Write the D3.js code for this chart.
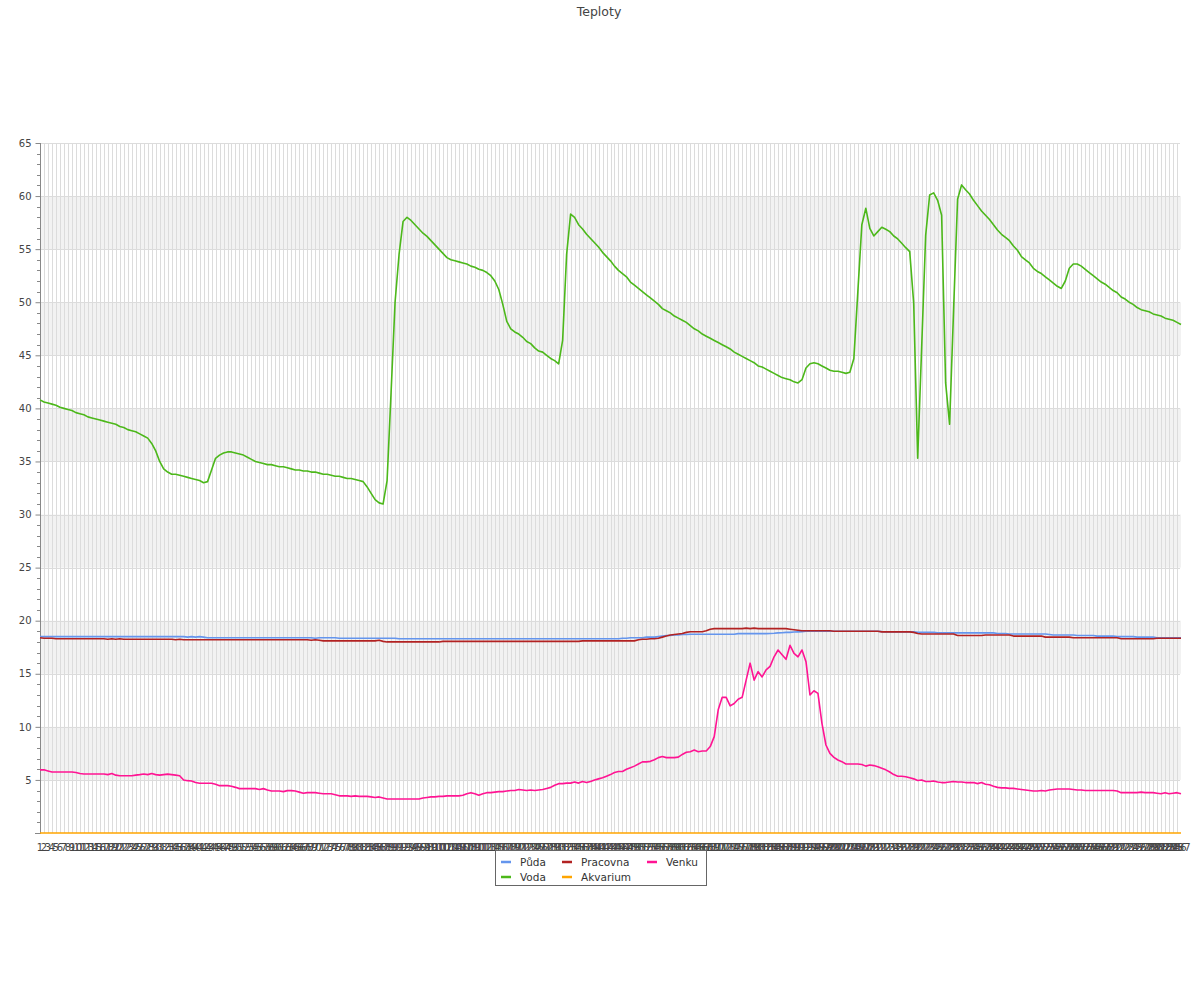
<!DOCTYPE html>
<html>
<head>
<meta charset="utf-8">
<script src="https://cdn.jsdelivr.net/npm/d3@7/dist/d3.min.js"></script>
<style>
html,body{margin:0;padding:0;background:#fff;}
svg text{font-family:"DejaVu Sans",sans-serif;}
</style>
</head>
<body>
<svg id="chart" width="1200" height="1000"></svg>
<script>
const title = "Teploty";
const categories = d3.range(1, 288).map(String);
const yTicks = [5, 10, 15, 20, 25, 30, 35, 40, 45, 50, 55, 60, 65];

const puda = [
18.5,18.5,18.5,18.5,18.5,18.5,18.5,18.5,18.5,18.5,
18.5,18.5,18.5,18.5,18.5,18.5,18.5,18.5,18.5,18.5,
18.5,18.5,18.5,18.5,18.5,18.5,18.5,18.5,18.5,18.5,
18.5,18.5,18.5,18.5,18.5,18.5,18.5,18.45,18.5,18.45,
18.5,18.45,18.4,18.4,18.4,18.4,18.4,18.4,18.4,18.4,
18.4,18.4,18.4,18.4,18.4,18.4,18.4,18.4,18.4,18.4,
18.4,18.4,18.4,18.4,18.4,18.4,18.4,18.4,18.4,18.35,
18.4,18.4,18.4,18.4,18.4,18.35,18.35,18.35,18.35,18.35,
18.35,18.35,18.35,18.35,18.35,18.35,18.35,18.35,18.35,18.35,
18.3,18.3,18.3,18.3,18.3,18.3,18.3,18.3,18.3,18.3,
18.3,18.3,18.3,18.3,18.3,18.3,18.3,18.3,18.3,18.3,
18.3,18.3,18.3,18.3,18.3,18.3,18.3,18.3,18.3,18.3,
18.3,18.3,18.3,18.3,18.3,18.3,18.3,18.3,18.3,18.3,
18.3,18.3,18.3,18.3,18.3,18.3,18.3,18.3,18.3,18.3,
18.3,18.3,18.3,18.3,18.3,18.3,18.35,18.35,18.4,18.4,
18.4,18.4,18.45,18.45,18.45,18.5,18.55,18.6,18.6,18.65,
18.65,18.7,18.7,18.72,18.72,18.72,18.72,18.72,18.72,18.72,
18.72,18.72,18.72,18.72,18.72,18.78,18.78,18.78,18.78,18.78,
18.78,18.78,18.78,18.8,18.82,18.85,18.87,18.9,18.9,18.93,
18.95,18.97,19.0,19.0,19.0,19.0,19.0,19.0,19.0,19.0,
19.0,19.0,19.0,19.0,19.0,19.0,19.0,19.0,19.0,19.0,
19.0,18.97,18.95,18.95,18.95,18.95,18.95,18.95,18.95,18.95,
18.9,18.9,18.9,18.9,18.9,18.85,18.85,18.85,18.85,18.85,
18.85,18.85,18.85,18.85,18.85,18.85,18.85,18.85,18.85,18.85,
18.8,18.8,18.8,18.75,18.75,18.75,18.75,18.75,18.75,18.75,
18.75,18.75,18.75,18.7,18.65,18.65,18.65,18.65,18.65,18.65,
18.6,18.6,18.6,18.6,18.6,18.55,18.55,18.55,18.55,18.55,
18.5,18.5,18.5,18.5,18.5,18.45,18.45,18.45,18.45,18.45,
18.4,18.4,18.4,18.4,18.4,18.4,18.4
];

const voda = [
40.8,40.6,40.5,40.4,40.3,40.1,40.0,39.9,39.8,39.6,
39.5,39.4,39.2,39.1,39.0,38.9,38.8,38.7,38.6,38.5,
38.3,38.2,38.0,37.9,37.8,37.6,37.4,37.2,36.7,36.0,
35.0,34.3,34.0,33.8,33.8,33.7,33.6,33.5,33.4,33.3,
33.2,33.0,33.1,34.2,35.3,35.6,35.8,35.9,35.9,35.8,
35.7,35.6,35.4,35.2,35.0,34.9,34.8,34.7,34.7,34.6,
34.5,34.5,34.4,34.3,34.2,34.2,34.1,34.1,34.0,34.0,
33.9,33.8,33.8,33.7,33.6,33.6,33.5,33.4,33.4,33.3,
33.2,33.1,32.6,32.0,31.4,31.1,31.0,33.2,41.5,50.0,
54.5,57.6,58.0,57.7,57.3,56.9,56.5,56.2,55.8,55.4,
55.0,54.6,54.2,54.0,53.9,53.8,53.7,53.6,53.4,53.3,
53.1,53.0,52.8,52.5,52.0,51.2,49.8,48.2,47.5,47.2,
47.0,46.7,46.3,46.1,45.7,45.4,45.3,45.0,44.7,44.5,
44.2,46.4,54.5,58.3,58.0,57.3,56.9,56.4,56.0,55.6,
55.2,54.7,54.3,53.9,53.4,53.0,52.7,52.4,51.9,51.6,
51.3,51.0,50.7,50.4,50.1,49.8,49.4,49.2,49.0,48.7,
48.5,48.3,48.1,47.8,47.5,47.3,47.0,46.8,46.6,46.4,
46.2,46.0,45.8,45.6,45.3,45.1,44.9,44.7,44.5,44.3,
44.0,43.9,43.7,43.5,43.3,43.1,42.9,42.8,42.7,42.5,
42.4,42.7,43.8,44.2,44.3,44.2,44.0,43.8,43.6,43.5,
43.5,43.4,43.3,43.4,44.7,51.0,57.3,58.85,56.96,56.24,
56.65,57.06,56.87,56.65,56.24,55.96,55.55,55.14,54.77,49.9,
35.3,45.8,56.3,60.1,60.3,59.6,58.2,42.4,38.5,49.3,
59.7,61.05,60.6,60.2,59.6,59.1,58.6,58.2,57.8,57.3,
56.8,56.4,56.1,55.8,55.3,54.9,54.3,54.0,53.7,53.2,
52.9,52.7,52.4,52.1,51.8,51.5,51.3,52.0,53.2,53.6,
53.6,53.4,53.1,52.8,52.5,52.2,51.9,51.7,51.4,51.1,
50.9,50.5,50.3,50.0,49.8,49.5,49.3,49.2,49.1,48.9,
48.8,48.7,48.5,48.4,48.3,48.1,47.9
];

const pracovna = [
18.4,18.35,18.35,18.35,18.3,18.3,18.3,18.3,18.3,18.3,
18.3,18.3,18.3,18.3,18.3,18.3,18.3,18.25,18.3,18.25,
18.3,18.25,18.25,18.25,18.25,18.25,18.25,18.25,18.25,18.25,
18.25,18.25,18.25,18.25,18.2,18.25,18.2,18.2,18.2,18.2,
18.2,18.2,18.2,18.2,18.2,18.2,18.2,18.2,18.2,18.2,
18.2,18.2,18.2,18.2,18.2,18.2,18.2,18.2,18.2,18.2,
18.2,18.2,18.2,18.2,18.2,18.2,18.2,18.2,18.15,18.2,
18.15,18.1,18.1,18.1,18.1,18.1,18.1,18.1,18.1,18.1,
18.1,18.1,18.1,18.1,18.1,18.15,18.05,18.0,18.0,18.0,
18.0,18.0,18.0,18.0,18.0,18.0,18.0,18.0,18.0,18.0,
18.0,18.05,18.05,18.05,18.05,18.05,18.05,18.05,18.05,18.05,
18.05,18.05,18.05,18.05,18.05,18.05,18.05,18.05,18.05,18.05,
18.05,18.05,18.05,18.05,18.05,18.05,18.05,18.05,18.05,18.05,
18.05,18.05,18.05,18.05,18.05,18.05,18.1,18.1,18.1,18.1,
18.1,18.1,18.1,18.1,18.1,18.1,18.1,18.1,18.1,18.1,
18.2,18.25,18.25,18.3,18.3,18.35,18.45,18.55,18.65,18.7,
18.75,18.8,18.9,18.96,18.96,18.96,18.96,19.05,19.2,19.25,
19.25,19.25,19.25,19.25,19.25,19.25,19.25,19.3,19.25,19.3,
19.25,19.25,19.25,19.25,19.25,19.25,19.25,19.25,19.2,19.15,
19.1,19.05,19.05,19.05,19.05,19.05,19.05,19.05,19.05,19.0,
19.0,19.0,19.0,19.0,19.0,19.0,19.0,19.0,19.0,19.0,
19.0,18.95,18.95,18.95,18.95,18.95,18.95,18.95,18.95,18.9,
18.8,18.75,18.75,18.75,18.75,18.75,18.75,18.75,18.75,18.75,
18.6,18.6,18.6,18.6,18.6,18.6,18.6,18.65,18.65,18.65,
18.65,18.65,18.65,18.65,18.55,18.55,18.55,18.55,18.55,18.55,
18.55,18.55,18.45,18.45,18.45,18.45,18.45,18.45,18.45,18.4,
18.4,18.4,18.4,18.4,18.4,18.4,18.4,18.4,18.4,18.4,
18.4,18.3,18.3,18.3,18.3,18.3,18.3,18.3,18.3,18.3,
18.35,18.35,18.35,18.35,18.35,18.35,18.35
];

const akvarium = [
0,0,0,0,0,0,0,0,0,0, 0,0,0,0,0,0,0,0,0,0,
0,0,0,0,0,0,0,0,0,0, 0,0,0,0,0,0,0,0,0,0,
0,0,0,0,0,0,0,0,0,0, 0,0,0,0,0,0,0,0,0,0,
0,0,0,0,0,0,0,0,0,0, 0,0,0,0,0,0,0,0,0,0,
0,0,0,0,0,0,0,0,0,0, 0,0,0,0,0,0,0,0,0,0,
0,0,0,0,0,0,0,0,0,0, 0,0,0,0,0,0,0,0,0,0,
0,0,0,0,0,0,0,0,0,0, 0,0,0,0,0,0,0,0,0,0,
0,0,0,0,0,0,0,0,0,0, 0,0,0,0,0,0,0,0,0,0,
0,0,0,0,0,0,0,0,0,0, 0,0,0,0,0,0,0,0,0,0,
0,0,0,0,0,0,0,0,0,0, 0,0,0,0,0,0,0,0,0,0,
0,0,0,0,0,0,0,0,0,0, 0,0,0,0,0,0,0,0,0,0,
0,0,0,0,0,0,0,0,0,0, 0,0,0,0,0,0,0,0,0,0,
0,0,0,0,0,0,0,0,0,0, 0,0,0,0,0,0,0,0,0,0,
0,0,0,0,0,0,0,0,0,0, 0,0,0,0,0,0,0,0,0,0,
0,0,0,0,0,0,0
];

const venku = [
5.95,5.95,5.85,5.75,5.75,5.75,5.75,5.75,5.75,5.7,
5.6,5.56,5.56,5.56,5.56,5.56,5.56,5.5,5.6,5.45,
5.4,5.4,5.4,5.4,5.45,5.5,5.56,5.5,5.6,5.5,
5.45,5.5,5.55,5.5,5.45,5.4,5.0,4.93,4.9,4.75,
4.68,4.68,4.68,4.68,4.6,4.46,4.46,4.46,4.4,4.3,
4.18,4.18,4.18,4.18,4.18,4.1,4.18,4.05,3.96,3.96,
3.96,3.9,3.99,3.99,3.95,3.85,3.74,3.8,3.8,3.8,
3.75,3.7,3.7,3.7,3.6,3.5,3.5,3.5,3.45,3.5,
3.45,3.45,3.45,3.4,3.35,3.4,3.3,3.2,3.2,3.2,
3.2,3.2,3.2,3.2,3.2,3.2,3.3,3.35,3.4,3.4,
3.45,3.45,3.5,3.5,3.5,3.5,3.55,3.7,3.8,3.7,
3.55,3.7,3.8,3.8,3.85,3.9,3.9,3.95,4.0,4.0,
4.1,4.05,4.0,4.05,4.0,4.05,4.1,4.2,4.3,4.5,
4.65,4.65,4.7,4.7,4.8,4.7,4.85,4.75,4.85,5.0,
5.1,5.2,5.35,5.5,5.7,5.8,5.8,6.0,6.15,6.3,
6.5,6.7,6.7,6.75,6.9,7.1,7.2,7.1,7.1,7.1,
7.15,7.4,7.6,7.66,7.82,7.66,7.72,7.72,8.14,9.08,
11.6,12.78,12.78,11.97,12.2,12.6,12.78,14.4,16.0,14.4,
15.2,14.7,15.36,15.7,16.6,17.24,16.8,16.36,17.68,16.92,
16.6,17.24,16.14,13.0,13.4,13.15,10.33,8.29,7.5,7.13,
6.88,6.72,6.5,6.5,6.5,6.5,6.45,6.3,6.4,6.35,
6.25,6.1,5.95,5.75,5.5,5.35,5.35,5.3,5.2,5.1,
4.95,5.0,4.85,4.85,4.9,4.8,4.75,4.75,4.8,4.85,
4.8,4.8,4.75,4.75,4.75,4.65,4.75,4.6,4.55,4.4,
4.3,4.25,4.25,4.2,4.2,4.15,4.1,4.05,4.0,3.95,
3.95,4.0,3.95,4.05,4.1,4.15,4.15,4.15,4.15,4.1,
4.05,4.05,4.0,4.0,4.0,4.0,4.0,4.0,4.0,4.0,
3.95,3.8,3.8,3.8,3.8,3.8,3.85,3.8,3.8,3.8,
3.75,3.7,3.8,3.7,3.75,3.8,3.7
];

const seriesNames = ["Půda", "Voda", "Pracovna", "Akvarium", "Venku"];
const seriesColors = ["#6495ed", "#4cb81a", "#b22222", "#ffa500", "#ff1493"];
const seriesValues = [puda, voda, pracovna, akvarium, venku];

const legendOrder = ["Půda", "Pracovna", "Venku", "Voda", "Akvarium"];

seriesValues.forEach((s, k) => { if (s.length !== categories.length) console.error(seriesNames[k], s.length); });

const svg = d3.select("#chart");
const pL = 40, pR = 1181, pT = 143, pB = 833;

const x = d3.scalePoint().domain(categories).range([pL, pR]);
const y = d3.scaleLinear().domain([0, 65]).range([pB, pT]);

// title
svg.append("text").attr("x", 599).attr("y", 16).attr("text-anchor", "middle")
  .attr("font-size", "12.5px").attr("fill", "#444").text(title);

// bands
const bands = [];
for (let i = 0; i < yTicks.length; i++) {
  const lo = i === 0 ? 0 : yTicks[i - 1];
  const hi = yTicks[i];
  if (i % 2 === 1) bands.push([lo, hi]);
}
svg.append("g").selectAll("rect").data(bands).join("rect")
  .attr("x", pL).attr("width", pR - pL)
  .attr("y", d => y(d[1])).attr("height", d => y(d[0]) - y(d[1]))
  .attr("fill", "#f2f2f2");

// vertical grid
svg.append("g").selectAll("line").data(categories.slice(1, -1)).join("line")
  .attr("x1", d => Math.round(x(d)) + 0.5).attr("x2", d => Math.round(x(d)) + 0.5)
  .attr("y1", pT).attr("y2", pB)
  .attr("stroke", "#dcdcdc").attr("stroke-width", 1);

// horizontal grid
svg.append("g").selectAll("line").data(yTicks).join("line")
  .attr("x1", pL).attr("x2", pR - 1)
  .attr("y1", d => Math.round(y(d)) + 0.5).attr("y2", d => Math.round(y(d)) + 0.5)
  .attr("stroke", "#dcdcdc").attr("stroke-width", 1);

// y axis
const yAxis = d3.axisLeft(y).tickValues(yTicks).tickSize(5).tickPadding(4);
const gy = svg.append("g").attr("transform", `translate(${pL + 0.5},0)`).call(yAxis);
gy.select(".domain").attr("stroke", "#888").attr("d", `M0,${pT}V${pB}`);
gy.selectAll(".tick line").attr("stroke", "#888");
gy.selectAll(".tick text").attr("fill", "#444").attr("font-size", "10px")
  .attr("font-family", "DejaVu Sans, sans-serif");
const minor = d3.range(1, 66).filter(v => v % 5 !== 0);
svg.append("g").selectAll("line").data(minor).join("line")
  .attr("x1", pL - 3).attr("x2", pL)
  .attr("y1", d => Math.round(y(d)) + 0.5).attr("y2", d => Math.round(y(d)) + 0.5)
  .attr("stroke", "#888");
svg.append("line").attr("x1", pL - 5).attr("x2", pL + 1)
  .attr("y1", pB + 0.5).attr("y2", pB + 0.5).attr("stroke", "#888");

// x labels
svg.append("g").selectAll("text").data(categories).join("text")
  .attr("x", d => x(d)).attr("y", 851).attr("text-anchor", "middle")
  .attr("font-size", "10px").attr("fill", "#444").text(d => d);

// lines
const line = d3.line().x((d, i) => x(categories[i])).y(d => y(d));
svg.append("g").selectAll("path").data(seriesValues).join("path")
  .attr("d", d => line(d)).attr("fill", "none")
  .attr("stroke", (d, i) => seriesColors[i]).attr("stroke-width", 1.6)
  .attr("stroke-linejoin", "round");

// legend
const lg = svg.append("g");
lg.append("rect").attr("x", 495.5).attr("y", 850.5).attr("width", 211).attr("height", 35)
  .attr("fill", "#fff").attr("stroke", "#666").attr("stroke-width", 1);
const colX = [500, 561, 646];
const rowY = [862, 877];
legendOrder.forEach((name, k) => {
  const col = k % 3, row = Math.floor(k / 3);
  const idx = seriesNames.indexOf(name);
  lg.append("line").attr("x1", colX[col] + 1).attr("x2", colX[col] + 11)
    .attr("y1", rowY[row]).attr("y2", rowY[row])
    .attr("stroke", seriesColors[idx]).attr("stroke-width", 2.5);
  lg.append("text").attr("x", colX[col] + 20).attr("y", rowY[row] + 3.5)
    .attr("font-size", "10.5px").attr("fill", "#333").text(name);
});
</script>
</body>
</html>
